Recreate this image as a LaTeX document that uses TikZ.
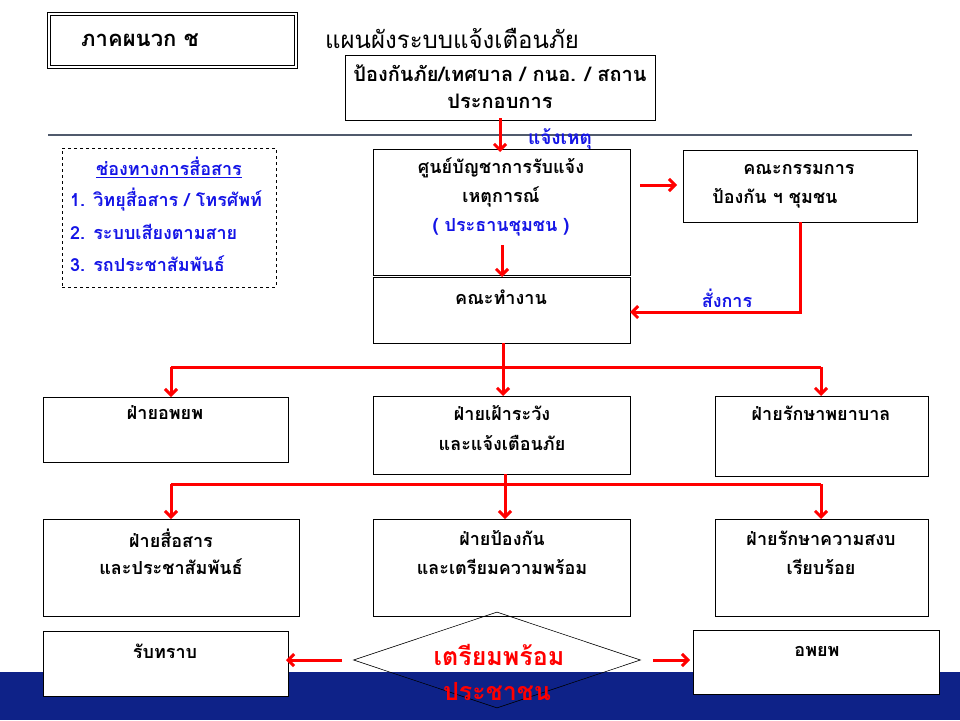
\documentclass[tikz,border=0pt]{standalone}
\usepackage{fontspec}
\setmainfont[Script=Thai]{Loma}
\usetikzlibrary{arrows.meta,shapes.geometric,fit}
\definecolor{navy}{RGB}{14,34,136}
\definecolor{rulegray}{RGB}{80,90,108}
\definecolor{tblue}{RGB}{20,20,230}
\definecolor{tred}{RGB}{255,0,0}
\tikzset{
  box/.style={draw, line width=1pt, fill=white, inner sep=0pt, outer sep=0pt},
  txt/.style={font=\bfseries\fontsize{18}{20}\selectfont, inner sep=0pt},
  btxt/.style={txt, text=tblue},
  rline/.style={draw=tred, line width=3pt, line join=miter},
  rarrow/.style={rline, -{Straight Barb[length=6pt,width=12pt]}},
}
\begin{document}
\begin{tikzpicture}[x=1pt,y=-1pt]
\useasboundingbox (0,0) rectangle (960,720);
% bottom band
\fill[navy] (0,672) rectangle (960,720);
% title
\draw[line width=0.8pt] (47,12) rectangle (297,68);
\node[box, line width=0.8pt, fill=none, fit={(50,15)(294,65)}] (apxbox) {};
\node[font=\bfseries\fontsize{22}{24}\selectfont, inner sep=0pt] (apx) at (140,40) {ภาคผนวก ช};
\node[font=\fontsize{24}{26}\selectfont, inner sep=0pt] (ttl) at (452,38) {แผนผังระบบแจ้งเตือนภัย};
% top box
\node[box, fit={(345,55)(655,120)}] (top) {};
\node[txt, font=\bfseries\fontsize{20}{22}\selectfont] (topa) at (500,73) {ป้องกันภัย/เทศบาล / กนอ. / สถาน};
\node[txt, font=\bfseries\fontsize{20}{22}\selectfont] (topb) at (500,101) {ประกอบการ};
% rule
\draw[rulegray, line width=2.5pt] (48,135) coordinate (rl) -- (912,135) coordinate (rr);
% channels box
\node[draw, dashed, line width=0.6pt, inner sep=0pt, fit={(62,148)(276,287)}] (chan) {};
\node[btxt] (ch0) at (169,167) {\underline{ช่องทางการสื่อสาร}};
\node[btxt, anchor=west] (ch1) at (70,200) {1. วิทยุสื่อสาร / โทรศัพท์};
\node[btxt, anchor=west] (ch2) at (70,232) {2. ระบบเสียงตามสาย};
\node[btxt, anchor=west] (ch3) at (70,264) {3. รถประชาสัมพันธ์};
% command centre
\node[box, fit={(373,149)(630,275)}] (cmd) {};
\node[txt] (cmda) at (501,168) {ศูนย์บัญชาการรับแจ้ง};
\node[txt] (cmdb) at (501,197) {เหตุการณ์};
\node[btxt] (cmdc) at (501,227) {( ประธานชุมชน )};
% working group
\node[box, fit={(373,277)(630,343)}] (work) {};
\node[txt] (worka) at (501,297) {คณะทำงาน};
% committee
\node[box, fit={(683,150)(917,222)}] (comm) {};
\node[txt] (comma) at (799,169) {คณะกรรมการ};
\node[txt] (commb) at (775,198) {ป้องกัน ฯ ชุมชน};
% arrows top part
\draw[rarrow] ([yshift=2pt]top.south) -- ([yshift=-3pt]top.south |- cmd.north);
\node[btxt, font=\bfseries\fontsize{19}{21}\selectfont] (notify) at (560,139) {แจ้งเหตุ};
\draw[rarrow] (502,245) coordinate (ci) -- (ci |- work.north);
\draw[rarrow] ([xshift=10pt]cmd.east |- 0,185) -- ([xshift=-6pt]comm.west |- 0,185);
\draw[rarrow] (comm.south) |- (0,312 -| work.east) coordinate (wk) ;
\node[btxt] (order) at (727,298) {สั่งการ};
% row 2
\node[box, fit={(43,397)(288,462)}] (evac) {};
\node[txt] (evaca) at (165,413) {ฝ่ายอพยพ};
\node[box, fit={(373,396)(630,474)}] (watch) {};
\node[txt] (watcha) at (502,413) {ฝ่ายเฝ้าระวัง};
\node[txt] (watchb) at (502,443) {และแจ้งเตือนภัย};
\node[box, fit={(715,396)(928,476)}] (care) {};
\node[txt] (carea) at (821,413) {ฝ่ายรักษาพยาบาล};
\coordinate (b1) at (503,367);
\draw[rline] (work.south -| b1) -- (b1);
\draw[rline] (171,367) coordinate (b1l) -- (821,367) coordinate (b1r);
\draw[rarrow] (b1l) -- (b1l |- evac.north);
\draw[rarrow] (b1) -- (b1 |- watch.north);
\draw[rarrow] (b1r) -- (b1r |- care.north);
% row 3
\node[box, fit={(43,519)(299,616)}] (comms) {};
\node[txt] (commsa) at (171,538) {ฝ่ายสื่อสาร};
\node[txt] (commsb) at (171,567) {และประชาสัมพันธ์};
\node[box, fit={(373,519)(630,616)}] (prev) {};
\node[txt] (preva) at (502,538) {ฝ่ายป้องกัน};
\node[txt] (prevb) at (502,567) {และเตรียมความพร้อม};
\node[box, fit={(715,519)(928,616)}] (order2) {};
\node[txt] (order2a) at (821,538) {ฝ่ายรักษาความสงบ};
\node[txt] (order2b) at (821,567) {เรียบร้อย};
\coordinate (b2) at (505,484);
\draw[rline] (watch.south -| b2) -- (b2);
\draw[rline] (171,484) coordinate (b2l) -- (821,484) coordinate (b2r);
\draw[rarrow] (b2l) -- (b2l |- comms.north);
\draw[rarrow] (b2) -- (b2 |- prev.north);
\draw[rarrow] (b2r) -- (b2r |- order2.north);
% bottom row
\node[box, fit={(43,631)(288,696)}] (ack) {};
\node[txt] (acka) at (165,651) {รับทราบ};
\node[box, fit={(693,630)(939,694)}] (go) {};
\node[txt] (goa) at (817,651) {อพยพ};
\node[draw, diamond, line width=0.6pt, inner sep=0pt, minimum width=287pt, minimum height=96pt] (dia) at (497,660) {};
\node[font=\bfseries\fontsize{25}{27}\selectfont, text=tred, inner sep=0pt] (diaa) at (499,655) {เตรียมพร้อม};
\node[font=\bfseries\fontsize{25}{27}\selectfont, text=tred, inner sep=0pt] (diab) at (497,692) {ประชาชน};
\draw[rarrow] ([xshift=-11pt]dia.west) -- ([xshift=-2pt]ack.east |- dia.west);
\draw[rarrow] ([xshift=12pt]dia.east) -- ([xshift=-3pt]go.west |- dia.east);
\end{tikzpicture}
\end{document}
